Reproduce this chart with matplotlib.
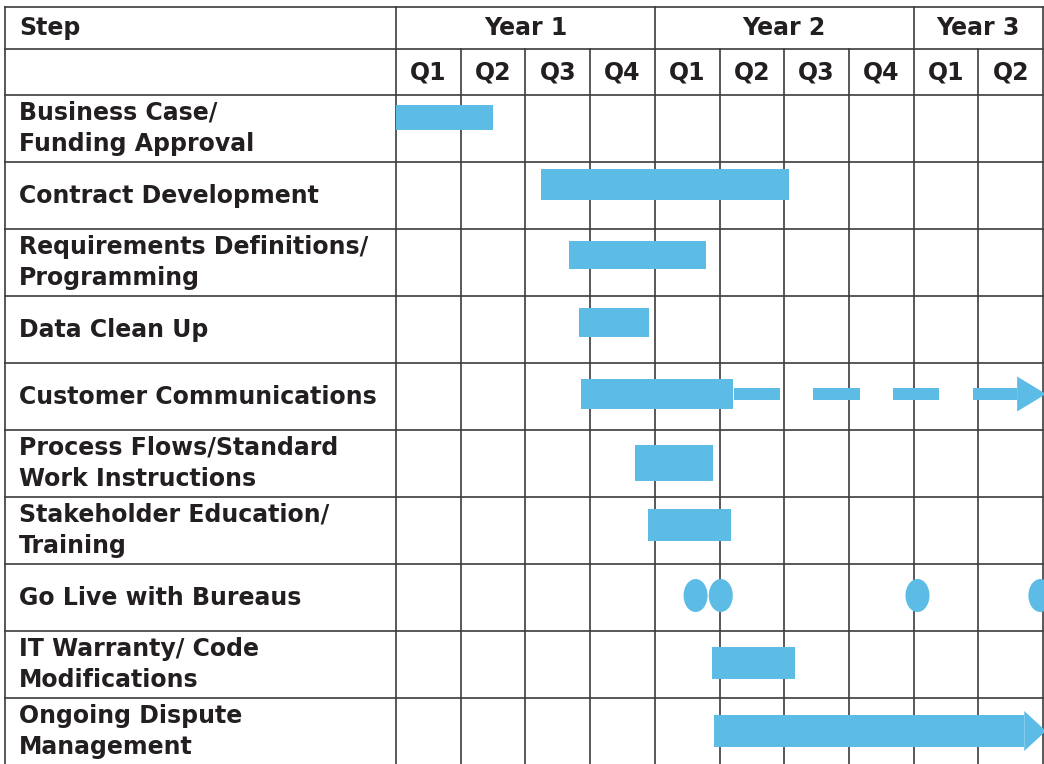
import matplotlib
matplotlib.use("Agg")
import matplotlib.pyplot as plt
from matplotlib.patches import Ellipse

plt.rcParams["font.family"] = ["DejaVu Sans"]

# Data: steps and timing in quarters (0 = Year 1 Q1 start)
steps = ["Business Case/\nFunding Approval", "Contract Development",
         "Requirements Definitions/\nProgramming", "Data Clean Up",
         "Customer Communications", "Process Flows/Standard\nWork Instructions",
         "Stakeholder Education/\nTraining", "Go Live with Bureaus",
         "IT Warranty/ Code\nModifications", "Ongoing Dispute\nManagement"]
bar_start = [0.0, 2.24, 2.67, 2.83, 2.86, 3.69, 3.89, None, 4.88, 4.92]
bar_end = [1.50, 6.07, 4.79, 3.91, 5.21, 4.90, 5.18, None, 6.17, 9.71]
comm_dashes = [(5.22, 5.94), (6.45, 7.17), (7.68, 8.39), (8.92, 9.60)]
golive = [4.63, 5.02, 8.06, 9.96]
years = ["Year 1", "Year 2", "Year 3"]
year_span = [(0, 4), (4, 8), (8, 10)]
quarters = ["Q1", "Q2", "Q3", "Q4", "Q1", "Q2", "Q3", "Q4", "Q1", "Q2"]

# Layout (pixels)
W, H = 1044, 764
X0, QW = 396, 64.7          # left of quarter grid, quarter width
Y0, RH = 95, 67             # top of first data row, row height
HEAD_TOP, HEAD_MID = 7, 49
bar_h_px = [25, 31, 28, 29, 30, 36, 32, 33, 32, 32]
bar_off_px = [-11, -11, -7.5, -7, -2.5, -0.5, -5.5, -2, -1.5, -0.5]

BLUE = "#5cbce6"
TXT = "#231f20"
LINE = "#3c3c3c"


def px(xp):
    return (xp - X0) / QW


def py(yp):
    return (yp - Y0) / RH


fig = plt.figure(figsize=(W / 100, H / 100), dpi=100)
ax = fig.add_axes([0, 0, 1, 1])
ax.set_xlim(px(0), px(W))
ax.set_ylim(py(H), py(0))
ax.axis("off")

n = len(steps)
ytop, ybot = py(HEAD_TOP), py(H + 5)
lw = 1.2

# horizontal grid lines
for yl in [py(HEAD_TOP), py(HEAD_MID)] + list(range(0, n + 1)):
    ax.plot([px(5), px(1043)], [yl, yl], color=LINE, lw=lw, zorder=1)
# vertical grid lines
for xl in [px(5), 0, 4, 8, px(1043)]:
    ax.plot([xl, xl], [ytop, ybot], color=LINE, lw=lw, zorder=1)
for q in range(1, 10):
    if q not in (4, 8):
        ax.plot([q, q], [py(HEAD_MID), ybot], color=LINE, lw=lw, zorder=1)

# header text
fs = 17
ax.text(px(19), py((HEAD_TOP + HEAD_MID) / 2), "Step", fontsize=fs,
        fontweight="bold", color=TXT, va="center", ha="left")
for yr, (a, b) in zip(years, year_span):
    ax.text((a + b) / 2, py((HEAD_TOP + HEAD_MID) / 2), yr, fontsize=fs,
            fontweight="bold", color=TXT, va="center", ha="center")
for i, q in enumerate(quarters):
    ax.text(i + 0.5, py((HEAD_MID + Y0) / 2), q, fontsize=fs,
            fontweight="bold", color=TXT, va="center", ha="center")

# step labels
for i, s in enumerate(steps):
    ax.text(px(19), i + 0.5, s, fontsize=fs, fontweight="bold", color=TXT,
            va="center", ha="left", linespacing=1.38)

# bars
for i in range(n):
    if bar_start[i] is None:
        continue
    yc = i + 0.5 + bar_off_px[i] / RH
    ax.barh(yc, bar_end[i] - bar_start[i], left=bar_start[i],
            height=bar_h_px[i] / RH, color=BLUE, zorder=3)

# customer communications dashed continuation with arrow
ci = 4
yc = ci + 0.5 + bar_off_px[ci] / RH
for a, b in comm_dashes:
    ax.barh(yc, b - a, left=a, height=12 / RH, color=BLUE, zorder=3)
hx = comm_dashes[-1][1]
ax.fill([hx, px(1046), hx], [yc - 17.5 / RH, yc, yc + 17.5 / RH],
        color=BLUE, lw=0, zorder=3)

# ongoing dispute arrow head
di = 9
yc = di + 0.5 + bar_off_px[di] / RH
hx = bar_end[di]
ax.fill([hx, px(1046), hx], [yc - 20 / RH, yc, yc + 20 / RH],
        color=BLUE, lw=0, zorder=3)

# go-live milestones
gi = 7
yc = gi + 0.5 + bar_off_px[gi] / RH
for g in golive:
    ax.add_patch(Ellipse((g, yc), 24 / QW, bar_h_px[gi] / RH,
                         color=BLUE, lw=0, zorder=3))

fig.savefig("out.png", dpi=100, facecolor="white")
